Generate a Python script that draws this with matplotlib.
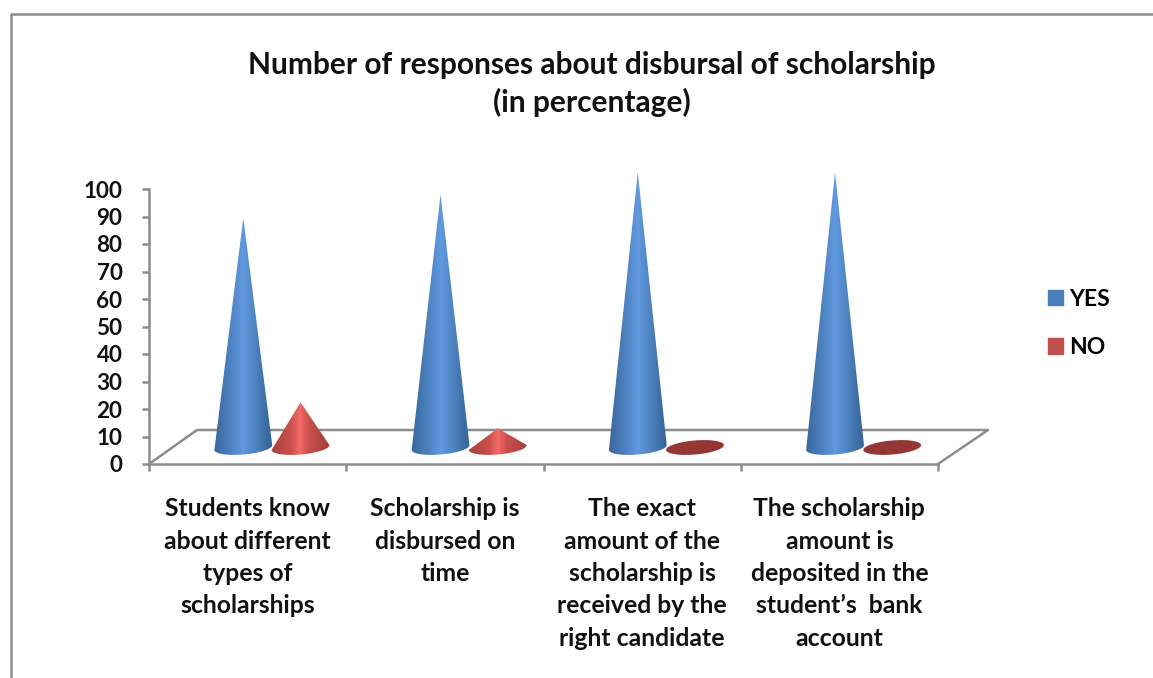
import numpy as np
import matplotlib
matplotlib.use("Agg")
import matplotlib.pyplot as plt
from matplotlib.colors import LinearSegmentedColormap
from matplotlib.lines import Line2D
from matplotlib.patches import Patch, Polygon

categories = ["Students know\nabout different\ntypes of\nscholarships",
              "Scholarship is\ndisbursed on\ntime",
              "The exact\namount of the\nscholarship is\nreceived by the\nright candidate",
              "The scholarship\namount is\ndeposited in the\nstudent\u2019s  bank\naccount"]
yes_values = [83.5, 92, 100, 100]
no_values = [16.4, 7, 0, 0]
y_ticks = list(range(0, 101, 10))
title = "Number of responses about disbursal of scholarship\n(in percentage)"

W, H = 1153, 678
GREY = "#8c8c8c"
plt.rcParams["font.family"] = ["Lato", "DejaVu Sans"]

fig = plt.figure(figsize=(W / 100, H / 100), dpi=100)
ax = fig.add_axes([149 / W, 1 - 464 / H, 789 / W, 275 / H])
ax.set_xlim(0, 4)
ax.set_ylim(0, 100)
ax.patch.set_alpha(0)

# size of one pixel in data units
px = 4 / 789
py = 100 / 275

blue_map = LinearSegmentedColormap.from_list("b", ["#3a659c", "#4a7ebb", "#6199e0", "#4a7ebb", "#355f92"])
red_map = LinearSegmentedColormap.from_list("r", [(0, "#a53e3b"), (0.35, "#c9504d"), (0.5, "#f56a68"),
                                                  (0.65, "#c9504d"), (1, "#a23c39")])


def ellipse_points(x, y, start, stop):
    t = np.radians(np.linspace(start, stop, 60))
    ex = 29 * np.cos(t)
    ey = 7 * np.sin(t)
    tilt = np.radians(5)
    return x + (ex * np.cos(tilt) - ey * np.sin(tilt)) * px, y + (ex * np.sin(tilt) + ey * np.cos(tilt)) * py


def draw_cone(x, value, cmap):
    base = 6.0
    if value == 0:
        ex, ey = ellipse_points(x, base, 0, 360)
        ax.add_patch(Polygon(np.column_stack([ex, ey]), color="#943634", lw=0, clip_on=False, zorder=4))
        return
    ex, ey = ellipse_points(x, base, 180, 360)
    pts = np.vstack([np.column_stack([ex, ey]), [x, value + base]])
    shape = Polygon(pts, closed=True, fc="none", ec="none", clip_on=False)
    ax.add_patch(shape)
    grad = np.linspace(0, 1, 256).reshape(1, -1)
    im = ax.imshow(grad, cmap=cmap, aspect="auto", zorder=4,
                   extent=[x - 30 * px, x + 30 * px, base - 10, value + base + 1])
    im.set_clip_box(fig.bbox)
    im.set_clip_path(shape)


# floor of the 3d plot
dx = 48 * px
dy = 34 * py
ax.plot([0, dx, 4 + dx + 2 * px, 4], [0, dy, dy, 0], color=GREY, lw=1.8, clip_on=False, zorder=1)

for i in range(4):
    draw_cone(i + 0.478, yes_values[i], blue_map)
    draw_cone(i + 0.768, no_values[i], red_map)
ax.set_xlim(0, 4)
ax.set_ylim(0, 100)

for s in ["top", "right"]:
    ax.spines[s].set_visible(False)
for s in ["left", "bottom"]:
    ax.spines[s].set_color(GREY)
    ax.spines[s].set_linewidth(1.8)

ax.set_yticks(y_ticks)
ax.set_xticks(range(5))
ax.set_xticklabels([])
ax.set_xticks(np.arange(4) + 0.5, minor=True)
ax.set_xticklabels(categories, minor=True, fontsize=17.8, fontweight="bold", linespacing=1.49, color="#111111")
ax.tick_params(axis="x", which="major", length=5, width=1.8, color=GREY)
ax.tick_params(axis="x", which="minor", length=0, pad=24)
ax.tick_params(axis="y", length=5, width=1.8, color=GREY, pad=14)
for lab in ax.get_yticklabels():
    lab.set_fontsize(16.2)
    lab.set_fontweight("bold")
    lab.set_color("#111111")

fig.text(592 / W, 1 - 84 / H, title, ha="center", va="center", fontsize=21.5, fontweight="bold",
         linespacing=1.36, color="#111111")

handles = [Patch(color="#4a7ebb", label="YES"), Patch(color="#c0504d", label="NO")]
fig.legend(handles=handles, loc="upper left", bbox_to_anchor=(1027 / W, 1 - 268 / H), frameon=False,
           prop={"size": 16.5, "weight": "bold"}, handlelength=0.65, handleheight=0.65,
           handletextpad=0.3, labelspacing=1.2)

# outer frame of the chart area
fig.add_artist(Line2D([11 / W, 11 / W, 1], [0, 1 - 14 / H, 1 - 14 / H], color=GREY, lw=1.8))

fig.savefig("out.png", dpi=100)
